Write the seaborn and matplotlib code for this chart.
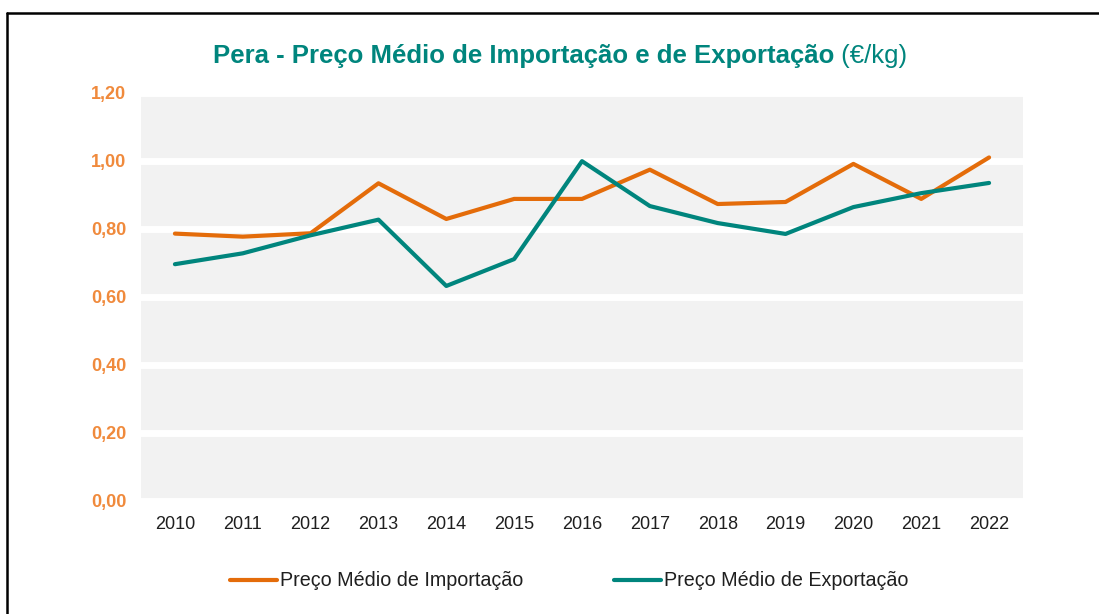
import matplotlib
matplotlib.use("Agg")
import matplotlib.pyplot as plt
from matplotlib.lines import Line2D
import seaborn as sns
import pandas as pd

years = [str(y) for y in range(2010, 2023)]
importacao = [0.785, 0.776, 0.786, 0.933, 0.828, 0.887, 0.887, 0.973, 0.872, 0.878, 0.990, 0.887, 1.009]
exportacao = [0.695, 0.727, 0.780, 0.826, 0.631, 0.710, 0.998, 0.866, 0.816, 0.784, 0.863, 0.904, 0.934]
series_names = ["Preço Médio de Importação", "Preço Médio de Exportação"]
yticks = [0.0, 0.2, 0.4, 0.6, 0.8, 1.0, 1.2]
ytick_labels = ["0,00", "0,20", "0,40", "0,60", "0,80", "1,00", "1,20"]

ORANGE = "#E46C0A"
TEAL = "#00857D"
TICK_ORANGE = "#F08A3C"

df = pd.DataFrame({
    "Ano": years * 2,
    "Preço": importacao + exportacao,
    "Série": [series_names[0]] * len(years) + [series_names[1]] * len(years),
})

sns.set_theme(style="white")
plt.rcParams["font.family"] = ["Liberation Sans", "DejaVu Sans"]

fig = plt.figure(figsize=(10.99, 6.14), dpi=100)
ax = fig.add_axes([141 / 1099, (614 - 500.5) / 614, (1023 - 141) / 1099, 408 / 614])
ax.set_facecolor("#F2F2F2")

sns.lineplot(data=df, x="Ano", y="Preço", hue="Série",
             palette=[ORANGE, TEAL], linewidth=3.0, ax=ax, legend=False, sort=False)

ax.set_xlim(-0.5, len(years) - 0.5)
ax.set_ylim(0, 1.2)
ax.set_yticks(yticks)
ax.set_yticklabels(ytick_labels)
ax.yaxis.grid(True, color="white", linewidth=5)
ax.xaxis.grid(False)
ax.set_axisbelow(True)
for s in ax.spines.values():
    s.set_visible(False)
ax.set_xlabel("")
ax.set_ylabel("")
ax.tick_params(axis="y", length=0, pad=10.5, labelsize=13, labelcolor=TICK_ORANGE)
ax.tick_params(axis="x", length=0, pad=11.5, labelsize=13, labelcolor="#1F1F1F")
for t in ax.get_yticklabels():
    t.set_fontweight("bold")

handles = [Line2D([0], [0], color=ORANGE, lw=3.0), Line2D([0], [0], color=TEAL, lw=3.0)]
fig.legend(handles, series_names, loc="center", bbox_to_anchor=(569 / 1099, 1 - 581 / 614),
           ncol=2, frameon=False, fontsize=14.2, handlelength=2.4, handletextpad=0.15,
           columnspacing=4.6, labelcolor="#1F1F1F")

# Title: bold part + normal part
title_bold = "Pera - Preço Médio de Importação e de Exportação"
title_norm = " (€/kg)"
ty = 1 - 56 / 614
t1 = fig.text(0, ty, title_bold, fontsize=18.5, fontweight="bold", color=TEAL, va="center", ha="left")
t2 = fig.text(0, ty, title_norm, fontsize=18.5, color=TEAL, va="center", ha="left")
fig.canvas.draw()
r = fig.canvas.get_renderer()
w1 = t1.get_window_extent(r).width
w2 = t2.get_window_extent(r).width
total = w1 + w2
x0 = 560 - total / 2
t1.set_x(x0 / 1099)
t2.set_x((x0 + w1) / 1099)

# Frame
fig.add_artist(Line2D([6.5 / 1099, 1.0], [1 - 12.5 / 614] * 2, color="black", lw=1.8, transform=fig.transFigure))
fig.add_artist(Line2D([6.5 / 1099] * 2, [0.0, 1 - 12.5 / 614], color="black", lw=1.8, transform=fig.transFigure))

fig.savefig("out.png", dpi=100)
